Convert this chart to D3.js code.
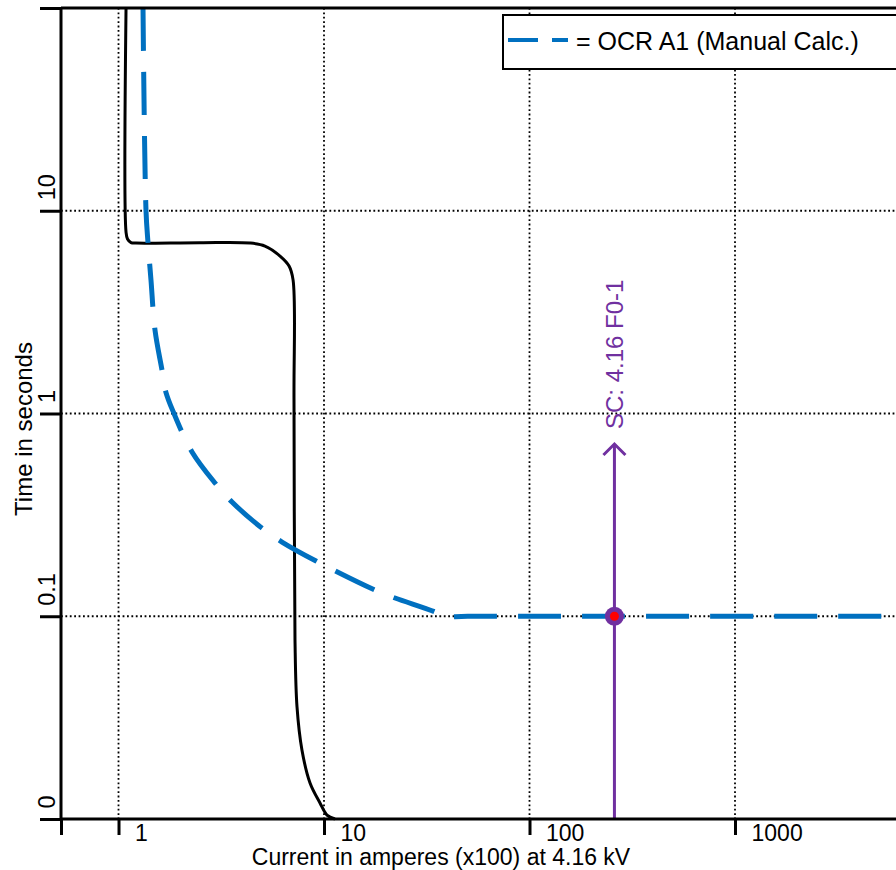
<!DOCTYPE html>
<html>
<head>
<meta charset="utf-8">
<script src="https://cdn.jsdelivr.net/npm/d3@7"></script>
<style>
  html, body { margin: 0; padding: 0; background: #fff; }
  svg { display: block; font-family: "Liberation Sans", Arial, sans-serif; }
</style>
</head>
<body>
<svg id="chart" width="896" height="870"></svg>
<script>
// ticks
var xTicks = [1, 10, 100, 1000],
  xTickLabels = ["1", "10", "100", "1000"],
  yTicks = [10, 1, 0.1, 0.01],
  yTickLabels = ["10", "1", "0.1", "0"];

// black TCC curve, [current (x100 A), time (s)]
var deviceCurve = [
  [1.088, 100], [1.088, 7.85], [1.106, 7.26], [1.15, 6.97], [1.217, 6.93],
  [2.49, 6.96], [4.37, 6.93], [5.16, 6.70], [6.11, 5.98], [6.76, 5.34],
  [7.07, 4.56], [7.145, 1.166], [7.225, 0.0764], [7.39, 0.0357],
  [7.81, 0.0219], [8.55, 0.01505], [9.56, 0.0120], [10.34, 0.01046],
  [11.31, 0.01]
];

// OCR A1 manual calc, [current, time]
var ocrCurve = [
  [1.316, 100], [1.361, 9.97], [1.392, 6.93], [1.439, 4.55], [1.505, 2.58],
  [1.628, 1.638], [1.70, 1.276], [1.862, 1.0], [2.279, 0.646],
  [2.949, 0.454], [3.567, 0.366], [4.993, 0.272], [6.246, 0.2323],
  [9.145, 0.1873], [17.71, 0.1347], [22.16, 0.123], [34.7, 0.105],
  [38, 0.1], [50, 0.1], [10000, 0.1]
];

// short circuit marker
var scCurrent = 259,
  scTime = 0.1,
  scLabel = "SC: 4.16 F0-1",
  legendLabel = "= OCR A1 (Manual Calc.)";

var blue = "#0070c0",
  purple = "#7030a0";

var svg = d3.select("#chart");

var x = d3.scaleLog().domain([0.525, 10000]).range([61, 940.5]),
  y = d3.scaleLog().domain([0.01, 100]).range([819, 8]);

var line = function(curve){
  return d3.line()
    .x(function(d){ return x(d[0]); })
    .y(function(d){ return y(d[1]); })
    .curve(curve);
};

// dotted grid
svg.append("g")
  .selectAll("line.vgrid")
  .data(xTicks)
  .join("line")
    .attr("x1", x).attr("x2", x)
    .attr("y1", y(100)).attr("y2", y(0.01))
    .attr("stroke", "#000")
    .attr("stroke-width", 1.8)
    .attr("stroke-dasharray", "1.8,2.6");

svg.append("g")
  .selectAll("line.hgrid")
  .data(yTicks.slice(0, 3))
  .join("line")
    .attr("y1", y).attr("y2", y)
    .attr("x1", x(0.525)).attr("x2", 896)
    .attr("stroke", "#000")
    .attr("stroke-width", 1.8)
    .attr("stroke-dasharray", "1.8,2.6");

// curves
svg.append("path")
  .datum(deviceCurve)
  .attr("d", line(d3.curveCatmullRom.alpha(0.5)))
  .attr("fill", "none")
  .attr("stroke", "#000")
  .attr("stroke-width", 3);

svg.append("path")
  .datum(ocrCurve)
  .attr("d", line(d3.curveCatmullRom.alpha(0.5)))
  .attr("fill", "none")
  .attr("stroke", blue)
  .attr("stroke-width", 5)
  .attr("stroke-dasharray", "43,21");

// SC arrow
var scX = x(scCurrent);
svg.append("line")
  .attr("x1", scX).attr("x2", scX)
  .attr("y1", y(0.01)).attr("y2", 444)
  .attr("stroke", purple)
  .attr("stroke-width", 3);

svg.append("path")
  .attr("d", "M" + (scX - 11) + ",455L" + scX + ",444L" + (scX + 11) + ",455")
  .attr("fill", "none")
  .attr("stroke", purple)
  .attr("stroke-width", 3);

svg.append("text")
  .attr("transform", "translate(" + (scX + 9) + ",429) rotate(-90)")
  .attr("fill", purple)
  .style("font-size", "24px")
  .text(scLabel);

svg.append("circle")
  .attr("cx", scX).attr("cy", y(scTime))
  .attr("r", 9.5)
  .attr("fill", purple);

svg.append("circle")
  .attr("cx", scX).attr("cy", y(scTime))
  .attr("r", 4.5)
  .attr("fill", "#ff0000");

// axes
var xAxis = d3.axisBottom(x)
  .tickValues([0.525].concat(xTicks))
  .tickSize(16)
  .tickSizeOuter(0)
  .tickFormat(function(d){
    var i = xTicks.indexOf(d);
    return i < 0 ? "" : xTickLabels[i];
  });

var gx = svg.append("g")
  .attr("transform", "translate(0," + y(0.01) + ")")
  .call(xAxis)
  .attr("font-family", null)
  .attr("font-size", null);

gx.select(".domain").remove();
gx.selectAll(".tick line").attr("stroke-width", 3);
gx.selectAll(".tick text")
  .attr("x", 16)
  .attr("y", 22)
  .attr("dy", null)
  .attr("text-anchor", "start")
  .style("font-size", "23px");

var yAxis = d3.axisLeft(y)
  .tickValues([100].concat(yTicks))
  .tickSize(21)
  .tickSizeOuter(0)
  .tickFormat(function(d){
    var i = yTicks.indexOf(d);
    return i < 0 ? "" : yTickLabels[i];
  });

var gy = svg.append("g")
  .attr("transform", "translate(" + x(0.525) + ",0)")
  .call(yAxis)
  .attr("font-family", null)
  .attr("font-size", null);

gy.select(".domain").remove();
gy.selectAll(".tick line").attr("stroke-width", 3);
gy.selectAll(".tick text")
  .attr("x", null)
  .attr("dy", null)
  .attr("transform", "translate(-6,-11) rotate(-90)")
  .attr("text-anchor", "start")
  .style("font-size", "23.5px");

// frame lines
svg.append("line")
  .attr("x1", x(0.525)).attr("x2", 896)
  .attr("y1", y(100)).attr("y2", y(100))
  .attr("stroke", "#000").attr("stroke-width", 3);

svg.append("line")
  .attr("x1", x(0.525)).attr("x2", 896)
  .attr("y1", y(0.01)).attr("y2", y(0.01))
  .attr("stroke", "#000").attr("stroke-width", 3);

svg.append("line")
  .attr("x1", x(0.525)).attr("x2", x(0.525))
  .attr("y1", y(100)).attr("y2", y(0.01))
  .attr("stroke", "#000").attr("stroke-width", 3);

// axis titles
svg.append("text")
  .attr("x", 441)
  .attr("y", 865)
  .attr("text-anchor", "middle")
  .style("font-size", "23px")
  .text("Current in amperes (x100) at 4.16 kV");

svg.append("text")
  .attr("transform", "translate(32,429) rotate(-90)")
  .attr("text-anchor", "middle")
  .style("font-size", "24px")
  .text("Time in seconds");

// legend
var legend = svg.append("g");

legend.append("rect")
  .attr("x", 503).attr("y", 15)
  .attr("width", 420).attr("height", 54)
  .attr("fill", "#fff")
  .attr("stroke", "#000")
  .attr("stroke-width", 2);

legend.append("line")
  .attr("x1", 508).attr("x2", 568)
  .attr("y1", 40).attr("y2", 40)
  .attr("stroke", blue)
  .attr("stroke-width", 4)
  .attr("stroke-dasharray", "30,14,16,100");

legend.append("text")
  .attr("x", 576)
  .attr("y", 50)
  .style("font-size", "25px")
  .text(legendLabel);
</script>
</body>
</html>
